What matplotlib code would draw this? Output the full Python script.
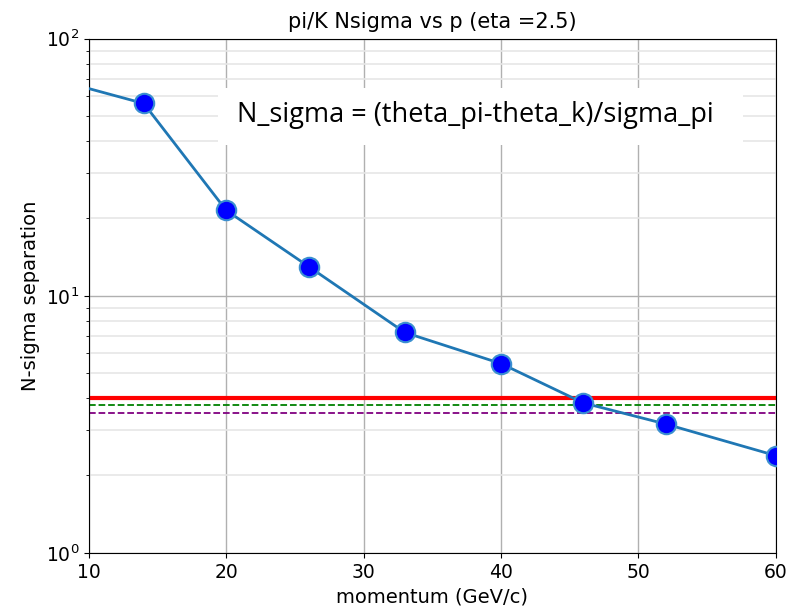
import matplotlib
matplotlib.use("Agg")
import matplotlib.pyplot as plt
from matplotlib.patches import Rectangle

# momentum points (GeV/c) and pi/K separation
p = [10, 14, 20, 26, 33, 40, 46, 52, 60]
nsigma = [64, 56, 21.5, 13.0, 7.2, 5.45, 3.83, 3.17, 2.39]

red_level = 4.0
green_level = 3.75
purple_level = 3.5

fig = plt.figure(figsize=(7.86, 6.15), dpi=100)
ax = fig.add_axes([0.113, 0.101, 0.874, 0.836])

ax.plot(p, nsigma, color='#1f77b4', lw=2, marker='o', markersize=14,
        markerfacecolor='#0000ff', markeredgecolor='#3a8fd0', markeredgewidth=1.5,
        markevery=list(range(1, len(p))), zorder=3)

ax.axhline(red_level, color='red', lw=3, zorder=2)
ax.axhline(green_level, color='green', lw=1.3, ls='--', zorder=2)
ax.axhline(purple_level, color='purple', lw=1.3, ls='--', zorder=2)

ax.set_yscale('log')
ax.set_xlim(10, 60)
ax.set_ylim(1, 100)
ax.grid(True, which='major', color='#b0b0b0', lw=1)
ax.grid(True, which='minor', axis='y', color='#e6e6e6', lw=1.2)
ax.set_axisbelow(True)

ax.tick_params(labelsize=13.5)
ax.set_title("pi/K Nsigma vs p (eta =2.5)", fontsize=15, pad=8)
ax.set_xlabel("momentum (GeV/c)", fontsize=14)
ax.set_ylabel("N-sigma separation", fontsize=14)

# white box with the formula
ax.add_patch(Rectangle((0.188, 0.794), 0.764, 0.111, transform=ax.transAxes,
                       facecolor='white', edgecolor='none', zorder=4))
ax.text(0.562, 0.851, "N_sigma = (theta_pi-theta_k)/sigma_pi", transform=ax.transAxes,
        ha='center', va='center', fontsize=19.5, family='Open Sans', zorder=5)

fig.savefig("out.png", dpi=100)
